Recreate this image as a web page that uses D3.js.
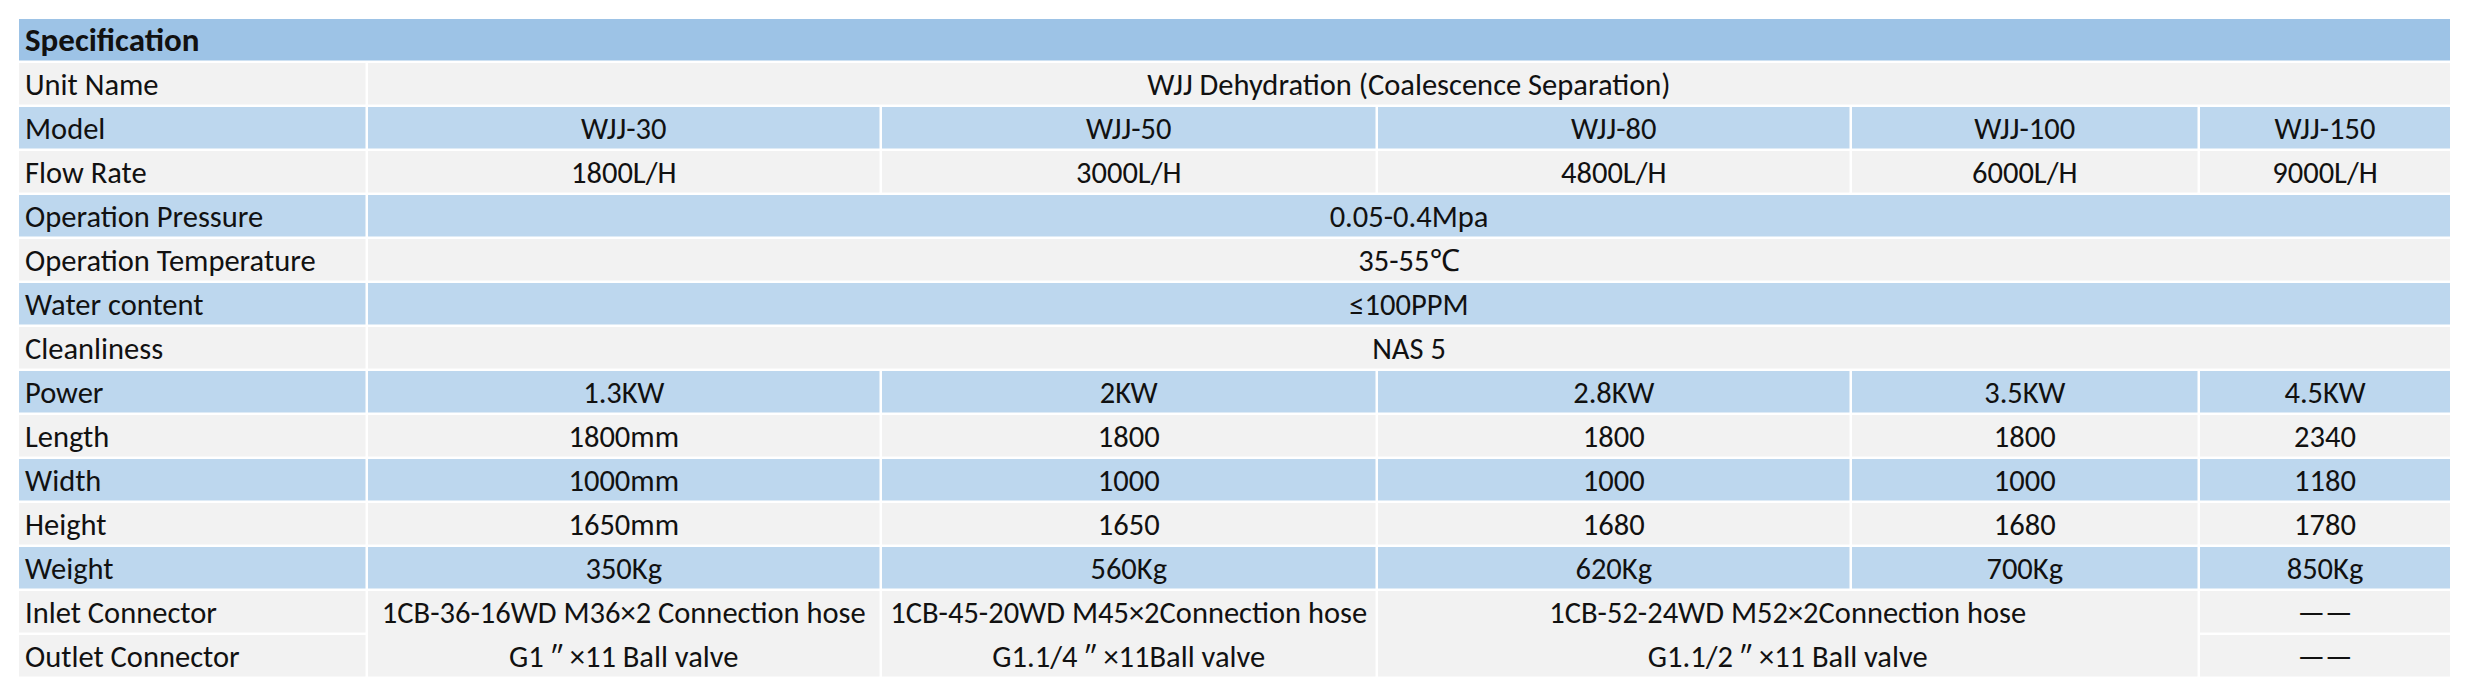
<!DOCTYPE html>
<html>
<head>
<meta charset="utf-8">
<script src="https://cdn.jsdelivr.net/npm/d3@7"></script>
<style>
  html, body { margin: 0; padding: 0; background: #ffffff; }
  svg { display: block; }
  text { font-family: Carlito, Calibri, Lato, "Noto Sans", sans-serif; fill: #111; }
</style>
</head>
<body>
<svg id="chart"></svg>
<script>
// ---------------- DATA ----------------
const title = "Specification";
const unitName = "WJJ Dehydration (Coalescence Separation)";
const models = ["WJJ-30", "WJJ-50", "WJJ-80", "WJJ-100", "WJJ-150"];
const flowRate = ["1800L/H", "3000L/H", "4800L/H", "6000L/H", "9000L/H"];
const operationPressure = "0.05-0.4Mpa";
const operationTemperature = "35-55℃";
const waterContent = "≤100PPM";
const cleanliness = "NAS 5";
const power = ["1.3KW", "2KW", "2.8KW", "3.5KW", "4.5KW"];
const lengthVals = ["1800mm", "1800", "1800", "1800", "2340"];
const widthVals = ["1000mm", "1000", "1000", "1000", "1180"];
const heightVals = ["1650mm", "1650", "1680", "1680", "1780"];
const weightVals = ["350Kg", "560Kg", "620Kg", "700Kg", "850Kg"];
// connector groups: first/last model index covered
const connectorGroups = [
  { from: 0, to: 0, inlet: "1CB-36-16WD M36×2 Connection hose", outlet: "G1 ″ ×11 Ball valve" },
  { from: 1, to: 1, inlet: "1CB-45-20WD M45×2Connection hose", outlet: "G1.1/4 ″ ×11Ball valve" },
  { from: 2, to: 3, inlet: "1CB-52-24WD M52×2Connection hose", outlet: "G1.1/2 ″ ×11 Ball valve" }
];
const lastInlet = "——";
const lastOutlet = "——";

const rowLabels = ["Specification", "Unit Name", "Model", "Flow Rate", "Operation Pressure",
  "Operation Temperature", "Water content", "Cleanliness", "Power", "Length", "Width",
  "Height", "Weight", "Inlet Connector", "Outlet Connector"];

// ---------------- LAYOUT ----------------
const W = 2466, H = 693;
const tLeft = 19, tRight = 2450, tTop = 19, tBottom = 679;
const gap = 2.5;
const colWeights = [349, 514, 496, 474, 348, 250]; // label col + 5 model cols
const COLORS = { header: "#9dc3e6", blue: "#bdd7ee", gray: "#f2f2f2" };
const FONT = 30.5;

const svg = d3.select("#chart").attr("width", W).attr("height", H);
svg.append("rect").attr("width", W).attr("height", H).attr("fill", "#fff");

const yScale = d3.scaleBand().domain(rowLabels).range([tTop, tBottom]).paddingInner(0);
const rowH = yScale.bandwidth();

const cum = d3.cumsum(colWeights);
const xEdge = d3.scaleLinear().domain([0, cum[cum.length - 1]]).range([tLeft, tRight]);
const edges = [tLeft].concat(Array.from(cum, v => xEdge(v)));

function cell(x0, x1, y0, y1, fill) {
  svg.append("rect")
    .attr("x", x0).attr("y", y0)
    .attr("width", x1 - x0 - gap).attr("height", y1 - y0 - gap)
    .attr("fill", fill);
}
function label(x, yc, txt, anchor, weight, size) {
  const s = size || FONT;
  svg.append("text")
    .attr("x", x).attr("y", yc + 11.5)
    .attr("text-anchor", anchor)
    .attr("font-size", s)
    .attr("font-weight", weight || 400)
    .text(txt);
}

const rowColor = {
  "Unit Name": "gray", "Model": "blue", "Flow Rate": "gray", "Operation Pressure": "blue",
  "Operation Temperature": "gray", "Water content": "blue", "Cleanliness": "gray",
  "Power": "blue", "Length": "gray", "Width": "blue", "Height": "gray", "Weight": "blue",
  "Inlet Connector": "gray", "Outlet Connector": "gray"
};

// header
{
  const y0 = yScale("Specification");
  cell(tLeft, tRight + gap, y0, y0 + rowH, COLORS.header);
  label(tLeft + 6, y0 + (rowH - gap) / 2, title, "start", 600, 33);
}

const spanRows = {
  "Unit Name": unitName, "Operation Pressure": operationPressure,
  "Operation Temperature": operationTemperature, "Water content": waterContent,
  "Cleanliness": cleanliness
};
const colRows = {
  "Model": models, "Flow Rate": flowRate, "Power": power, "Length": lengthVals,
  "Width": widthVals, "Height": heightVals, "Weight": weightVals
};

rowLabels.slice(1).forEach(r => {
  const y0 = yScale(r), y1 = y0 + rowH;
  const fill = COLORS[rowColor[r]];
  const yc = y0 + (rowH - gap) / 2;
  cell(edges[0], edges[1], y0, y1, fill);
  label(edges[0] + 6, yc, r, "start");
  if (spanRows[r] !== undefined) {
    cell(edges[1], tRight + gap, y0, y1, fill);
    label((edges[1] + tRight) / 2, yc, spanRows[r], "middle");
  } else if (colRows[r]) {
    colRows[r].forEach((v, i) => {
      const x0 = edges[i + 1], x1 = i === 4 ? tRight + gap : edges[i + 2];
      cell(x0, x1, y0, y1, fill);
      label((x0 + x1 - gap) / 2, yc, v, "middle");
    });
  }
});

// connector rows
{
  const yi = yScale("Inlet Connector"), yo = yScale("Outlet Connector");
  const fill = COLORS.gray;
  connectorGroups.forEach(gp => {
    const x0 = edges[gp.from + 1], x1 = edges[gp.to + 2];
    cell(x0, x1, yi, yo + rowH, fill);
    const xc = (x0 + x1 - gap) / 2;
    label(xc, yi + (rowH - gap) / 2, gp.inlet, "middle");
    label(xc, yo + (rowH - gap) / 2, gp.outlet, "middle");
  });
  const x0 = edges[5], x1 = tRight + gap;
  cell(x0, x1, yi, yi + rowH, fill);
  cell(x0, x1, yo, yo + rowH, fill);
  label((x0 + tRight) / 2, yi + (rowH - gap) / 2, lastInlet, "middle");
  label((x0 + tRight) / 2, yo + (rowH - gap) / 2, lastOutlet, "middle");
}
</script>
</body>
</html>
